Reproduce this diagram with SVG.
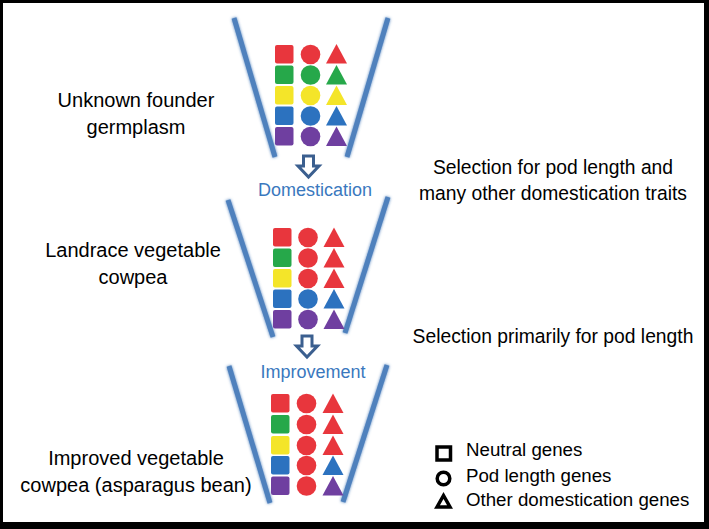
<svg xmlns="http://www.w3.org/2000/svg" width="709" height="529" viewBox="0 0 709 529">
<defs>
<style>
.txt{font-family:"Liberation Sans",Arial,sans-serif;fill:#000;}
.lbl{font-size:20px;text-anchor:middle;}
.note{font-size:19.3px;text-anchor:middle;}
.stage{font-family:"Liberation Sans",Arial,sans-serif;font-size:18px;fill:#3A78BE;text-anchor:middle;}
.leg{font-size:18.7px;}
.wall{stroke:#4F81BD;stroke-width:5;fill:none;stroke-linecap:butt;}
.arrow{fill:#fff;stroke:#3B5F8F;stroke-width:3;stroke-linejoin:miter;}
.r{fill:#E8363D;}.g{fill:#26A84A;}.y{fill:#F4E529;}.b{fill:#2C72BF;}.p{fill:#6F3FA0;}
.legicon{fill:none;stroke:#000;stroke-width:3.5;}
</style>
<filter id="glow" x="-50%" y="-10%" width="200%" height="120%">
<feGaussianBlur in="SourceGraphic" stdDeviation="1.5" result="b"/>
<feMerge><feMergeNode in="b"/><feMergeNode in="SourceGraphic"/></feMerge>
</filter>
<rect id="sq" x="0" y="0" width="18.5" height="18.5" rx="2"/>
<circle id="ci" cx="0" cy="0" r="9.8"/>
<path id="tr" d="M0,0 L10.5,-19.5 L21,0 Z" stroke-linejoin="round"/>
</defs>

<rect x="0" y="0" width="709" height="529" fill="#000"/>
<rect x="3" y="3" width="701" height="519" fill="#fff"/>

<g id="funnel-founder">
<line class="wall" filter="url(#glow)" x1="234" y1="18" x2="275" y2="157"/>
<line class="wall" filter="url(#glow)" x1="388" y1="18" x2="347" y2="157"/>
<use href="#sq" class="r" x="275" y="45"/><use href="#ci" class="r" x="310.5" y="54.5"/><use href="#tr" class="r" x="326" y="63.5"/>
<use href="#sq" class="g" x="275" y="65.5"/><use href="#ci" class="g" x="310.5" y="75"/><use href="#tr" class="g" x="326" y="84.5"/>
<use href="#sq" class="y" x="275" y="86"/><use href="#ci" class="y" x="310.5" y="95.5"/><use href="#tr" class="y" x="326" y="105"/>
<use href="#sq" class="b" x="275" y="106.5"/><use href="#ci" class="b" x="310.5" y="116"/><use href="#tr" class="b" x="326" y="125.5"/>
<use href="#sq" class="p" x="275" y="127"/><use href="#ci" class="p" x="310.5" y="136.5"/><use href="#tr" class="p" x="326" y="146"/>
</g>

<g id="funnel-landrace">
<line class="wall" filter="url(#glow)" x1="228" y1="200" x2="273" y2="337"/>
<line class="wall" filter="url(#glow)" x1="388" y1="197" x2="345" y2="333"/>
<use href="#sq" class="r" x="273" y="228"/><use href="#ci" class="r" x="308" y="237.5"/><use href="#tr" class="r" x="323.5" y="247"/>
<use href="#sq" class="g" x="273" y="248.5"/><use href="#ci" class="r" x="308" y="258"/><use href="#tr" class="r" x="323.5" y="267.5"/>
<use href="#sq" class="y" x="273" y="269"/><use href="#ci" class="r" x="308" y="278.5"/><use href="#tr" class="r" x="323.5" y="288"/>
<use href="#sq" class="b" x="273" y="289.5"/><use href="#ci" class="b" x="308" y="299"/><use href="#tr" class="b" x="323.5" y="308.5"/>
<use href="#sq" class="p" x="273" y="310"/><use href="#ci" class="p" x="308" y="319.5"/><use href="#tr" class="p" x="323.5" y="329"/>
</g>

<g id="funnel-improved">
<line class="wall" filter="url(#glow)" x1="229" y1="366" x2="270" y2="503"/>
<line class="wall" filter="url(#glow)" x1="387" y1="365" x2="343" y2="502"/>
<use href="#sq" class="r" x="271" y="394"/><use href="#ci" class="r" x="306.5" y="403.5"/><use href="#tr" class="r" x="322.5" y="413"/>
<use href="#sq" class="g" x="271" y="415"/><use href="#ci" class="r" x="306.5" y="424.5"/><use href="#tr" class="r" x="322.5" y="434"/>
<use href="#sq" class="y" x="271" y="436"/><use href="#ci" class="r" x="306.5" y="445.5"/><use href="#tr" class="r" x="322.5" y="455"/>
<use href="#sq" class="b" x="271" y="456"/><use href="#ci" class="r" x="306.5" y="465.5"/><use href="#tr" class="b" x="322.5" y="475"/>
<use href="#sq" class="p" x="271" y="476.5"/><use href="#ci" class="r" x="306.5" y="486"/><use href="#tr" class="p" x="322.5" y="495.5"/>
</g>

<g id="connectors">
<path class="arrow" d="M303.5,156 L313.5,156 L313.5,166 L319,166 L308.5,177 L298,166 L303.5,166 Z"/>
<path class="arrow" d="M302,336 L312,336 L312,346 L317.5,346 L307,357 L296.5,346 L302,346 Z"/>
</g>

<g id="stage-domestication"><text class="stage" x="315" y="196">Domestication</text></g>
<g id="stage-improvement"><text class="stage" x="313" y="378">Improvement</text></g>

<g id="label-founder">
<text class="txt lbl" x="136" y="107">Unknown founder</text>
<text class="txt lbl" x="136" y="134">germplasm</text>
</g>
<g id="label-landrace">
<text class="txt lbl" x="133" y="257">Landrace vegetable</text>
<text class="txt lbl" x="133" y="284">cowpea</text>
</g>
<g id="label-improved">
<text class="txt lbl" x="136" y="465">Improved vegetable</text>
<text class="txt lbl" x="136" y="492">cowpea (asparagus bean)</text>
</g>

<g id="note-domestication">
<text class="txt note" x="553" y="174">Selection for pod length and</text>
<text class="txt note" x="553" y="200">many other domestication traits</text>
</g>
<g id="note-improvement">
<text class="txt note" x="553" y="343">Selection primarily for pod length</text>
</g>

<g id="legend">
<rect class="legicon" x="437" y="447" width="13.5" height="13"/>
<circle class="legicon" cx="443.5" cy="478.5" r="6.3"/>
<path class="legicon" d="M437,507 L443.5,495.5 L450,507 Z"/>
<text class="txt leg" x="466" y="456">Neutral genes</text>
<text class="txt leg" x="466" y="482">Pod length genes</text>
<text class="txt leg" x="466" y="506">Other domestication genes</text>
</g>
</svg>
